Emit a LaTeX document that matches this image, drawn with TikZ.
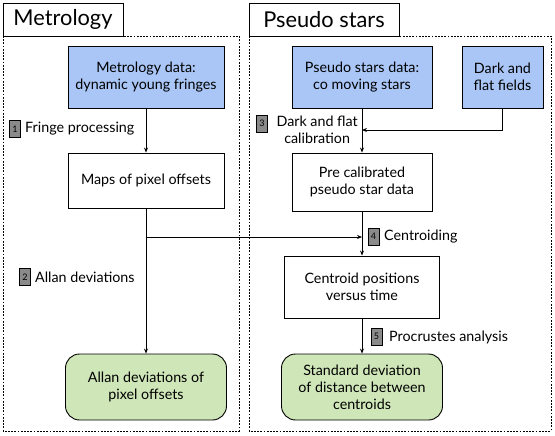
\documentclass[tikz,border=0pt]{standalone}
\usepackage{fontspec}
\setmainfont{Lato}
\usetikzlibrary{arrows.meta}
\definecolor{blueF}{HTML}{A9C6F6}
\definecolor{greenF}{HTML}{CFE6B8}
\definecolor{badgeF}{HTML}{8A8A8A}
\begin{document}
\begin{tikzpicture}[x=1pt,y=-1pt,
  txt/.style={font=\fontsize{14.3}{17}\selectfont},
  box/.style={draw, line width=0.9pt, align=center, inner sep=0pt, txt},
  bluebox/.style={box, fill=blueF},
  whitebox/.style={box, fill=white},
  greenbox/.style={box, fill=greenF, rounded corners=14pt},
  titlebox/.style={draw, line width=0.9pt, fill=white, inner sep=0pt, font=\fontsize{21.8}{26}\selectfont},
  region/.style={draw, line width=0.8pt, dash pattern=on 1.8pt off 1.4pt},
  arr/.style={line width=0.8pt, -{Stealth[length=5pt,width=4pt]}},
  badge/.style={draw, line width=0.6pt, fill=badgeF, inner sep=0pt, minimum width=11pt, minimum height=17pt, font=\fontsize{9}{10}\selectfont},
  lab/.style={txt, inner sep=0pt, anchor=west}
]
\useasboundingbox (0,0) rectangle (555,436);
\fill[white] (0,0) rectangle (555,436);

% regions
\draw[region] (3,36) rectangle (239,431);
\draw[region] (249,36) rectangle (551,431);
\node[titlebox, minimum width=120pt, minimum height=33pt] (ttl1) at (63,19.5) {Metrology};
\node[titlebox, minimum width=150pt, minimum height=33pt] (ttl2) at (324,19.5) {Pseudo stars};

% left column
\node[bluebox, minimum width=156pt, minimum height=62pt] (mdata) at (146,77) {Metrology data:\\dynamic young fringes};
\node[whitebox, minimum width=156pt, minimum height=55pt] (maps) at (146,180.5) {Maps of pixel offsets};
\node[greenbox, minimum width=161pt, minimum height=66pt] (allan) at (146,387) {Allan deviations of\\pixel offsets};

% right column
\node[bluebox, minimum width=140pt, minimum height=62pt] (pdata) at (362,77) {Pseudo stars data:\\co moving stars};
\node[bluebox, minimum width=81pt, minimum height=62pt] (dark) at (502.5,77) {Dark and\\flat fields};
\node[whitebox, minimum width=140pt, minimum height=58pt] (precal) at (362,182) {Pre calibrated\\pseudo star data};
\node[whitebox, minimum width=155pt, minimum height=62pt] (centr) at (362,287) {Centroid positions\\versus time};
\node[greenbox, minimum width=161pt, minimum height=66pt] (stddev) at (362,387) {Standard deviation\\of distance between\\centroids};

% junctions
\coordinate (j1) at (362,130);
\coordinate (j2) at (146,237);
\coordinate (j3) at (362,237);

% connectors
\draw[arr] (mdata.south) -- (maps.north);
\draw[arr] (maps.south) -- (allan.north);
\draw[arr] (pdata.south) -- (precal.north);
\draw[arr] (dark.south) |- (j1);
\draw[arr] (precal.south) -- (centr.north);
\draw[arr] (j2) -- (j3);
\draw[arr] (centr.south) -- (stddev.north);

% labels
\node[badge] (b1) at (15,129) {1};
\node[lab] (l1) at (25,129) {Fringe processing};
\node[badge] (b2) at (25,277) {2};
\node[lab] (l2) at (35,277) {Allan deviations};
\node[badge] (b3) at (262,123.5) {3};
\node[txt, align=center, inner sep=0pt, anchor=east] (l3) at (358,130) {Dark and flat\\calibration};
\node[badge] (b4) at (373.5,236.5) {4};
\node[lab] (l4) at (384,237) {Centroiding};
\node[badge] (b5) at (376.5,336.5) {5};
\node[lab] (l5) at (389,337) {Procrustes analysis};
\end{tikzpicture}
\end{document}
